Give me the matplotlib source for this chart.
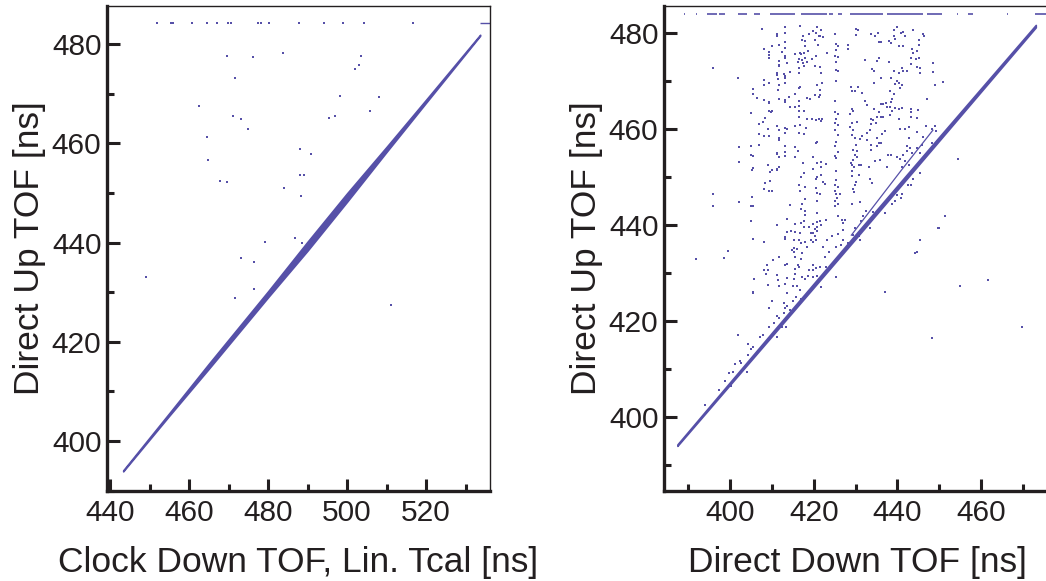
import numpy as np
import matplotlib.pyplot as plt
from matplotlib.ticker import MultipleLocator

plt.rcParams['font.family'] = ['Liberation Sans', 'DejaVu Sans']

INK = '#231f20'
DOT = '#5650a8'

# ---- left panel: Clock Down TOF (Lin. Tcal) vs Direct Up TOF ----
left_band_x = [443.3, 455.0, 465.0, 480.0, 490.0, 500.0, 510.0, 520.0, 533.7]
left_band_y = [394.0, 405.4, 415.1, 429.6, 439.3, 449.1, 458.8, 468.5, 481.8]
left_band_spread = [0.1, 0.25, 0.5, 0.6, 0.9, 0.85, 0.5, 0.3, 0.1]

left_top_level = 484.2
left_top_x = [451.9, 455.4, 455.9, 460.8, 464.6, 467.1, 469.9, 470.6, 477.5,
              478.2, 480.3, 487.8, 494.2, 499.0, 504.3, 516.7]
left_top_seg = [533.7, 536.2]

left_pts = np.array([
    (469.7, 477.6), (476.3, 477.4), (483.7, 478.2), (503.5, 477.6), (502.9, 475.9),
    (501.9, 475.0), (471.6, 473.1), (498.2, 469.5), (508.2, 469.3), (462.6, 467.5),
    (505.8, 466.5), (471.2, 465.6), (473.2, 465.0), (495.4, 465.2), (497.0, 465.5),
    (475.0, 462.9), (464.6, 461.3), (488.2, 458.8), (490.9, 457.8), (464.9, 456.6),
    (488.1, 453.6), (489.1, 453.6), (467.8, 452.5), (469.5, 452.3), (484.1, 451.1),
    (488.3, 449.4), (486.8, 440.9), (479.2, 440.1), (488.6, 440.0), (473.2, 436.9),
    (476.5, 436.0), (449.0, 433.1), (476.5, 430.6), (471.6, 428.8), (511.1, 427.4),
])

# ---- right panel: Direct Down TOF vs Direct Up TOF ----
right_band_x = [387.4, 410.0, 430.0, 450.0, 473.1]
right_band_y = [394.1, 417.2, 437.6, 458.0, 481.5]
right_band_spread = [0.15, 0.35, 0.45, 0.4, 0.25]

right_band2_x = [429.0, 441.0, 448.5]
right_band2_y = [437.9, 451.5, 459.8]

right_top_level = 484.0
right_top_start = [389.0, 391.9, 394.4, 397.4, 401.9, 405.7, 409.6, 416.9, 423.7,
                   425.8, 428.7, 437.5, 447.1, 454.2, 456.9, 466.1, 472.9]
right_top_end = [389.3, 392.2, 396.8, 398.8, 404.1, 407.2, 415.5, 423.1, 424.6,
                 426.8, 436.6, 446.1, 450.7, 454.5, 458.1, 466.4, 477.0]

right_pts = np.array([
    (407.7, 480.9), (413.2, 481.3), (416.8, 481.6), (411.3, 479.8), (411.3, 479.4),
    (413.2, 480.0), (418.8, 479.8), (419.8, 480.5), (420.6, 480.0), (421.2, 479.5),
    (420.9, 481.4), (417.5, 479.5), (417.1, 478.7), (417.8, 478.3), (418.0, 477.3),
    (418.6, 476.4), (417.7, 475.9), (420.4, 478.7), (421.0, 477.5), (410.1, 477.4),
    (411.6, 477.6), (413.2, 478.1), (408.2, 476.7), (409.2, 476.2), (409.2, 475.5),
    (409.2, 474.8), (413.2, 476.9), (412.4, 476.1), (413.2, 475.3), (413.2, 474.8),
    (415.5, 475.7), (416.7, 475.8), (416.9, 475.6), (416.5, 474.6), (416.3, 474.1),
    (417.1, 474.5), (418.0, 474.8), (418.5, 474.1), (417.5, 473.9), (417.7, 473.2),
    (419.6, 474.6), (420.6, 475.2), (420.4, 473.1), (413.5, 473.9), (411.6, 474.2),
    (411.6, 473.4), (411.6, 473.1), (416.6, 472.7), (414.3, 472.0), (416.6, 471.8),
    (411.3, 471.8), (411.3, 471.3), (412.9, 471.5), (413.2, 471.0), (413.1, 470.6),
    (413.2, 469.7), (411.5, 470.4), (411.6, 469.2), (411.5, 468.2), (408.0, 470.2),
    (409.2, 469.6), (408.1, 469.2), (405.6, 468.4), (405.6, 467.4), (406.5, 466.5),
    (408.0, 466.1), (409.4, 465.7), (409.2, 465.4), (411.6, 466.3), (413.1, 466.1),
    (413.2, 465.7), (414.2, 466.8), (415.5, 467.3), (416.7, 468.9), (416.5, 468.7),
    (418.3, 466.6), (419.1, 466.3), (420.4, 467.1), (420.9, 469.3), (421.2, 466.8),
    (414.3, 464.6), (415.5, 464.6), (416.6, 465.8), (416.6, 464.9), (416.6, 463.8),
    (416.6, 462.6), (417.7, 463.8), (418.3, 462.1), (419.6, 462.1), (420.6, 462.0),
    (421.2, 462.1), (409.4, 463.8), (409.7, 463.5), (410.0, 463.8), (408.3, 462.4),
    (407.8, 461.5), (407.0, 461.0), (405.1, 463.3), (409.1, 460.1), (411.3, 460.7),
    (411.6, 459.9), (413.1, 460.3), (413.7, 460.0), (413.2, 459.3), (415.5, 460.7),
    (416.7, 460.8), (418.2, 460.3), (416.4, 459.2), (417.7, 458.9), (407.0, 459.0),
    (408.0, 458.6), (409.2, 458.6), (411.6, 458.2), (411.6, 457.8), (420.9, 457.4),
    (420.6, 457.1), (407.0, 456.7), (405.1, 456.5), (402.2, 456.3), (413.2, 456.4),
    (415.5, 456.2), (416.3, 455.5), (411.3, 455.1), (411.2, 454.9), (411.6, 454.3),
    (413.2, 455.3), (413.2, 454.4), (415.5, 454.3), (404.9, 454.7), (405.6, 454.4),
    (402.2, 453.2), (409.1, 452.5), (411.6, 452.2), (411.3, 451.7), (417.4, 452.9),
    (419.9, 454.2), (420.9, 452.9), (419.9, 451.7), (405.4, 451.9), (395.8, 472.7),
    (402.0, 470.6),
    (421.8, 480.7), (421.5, 479.4), (422.3, 479.2), (425.2, 479.8), (430.0, 481.0),
    (430.6, 480.6), (430.0, 479.6), (433.6, 479.8), (435.4, 480.0), (434.7, 479.5),
    (440.0, 481.3), (439.2, 480.7), (440.8, 480.0), (441.4, 480.2), (441.9, 479.5),
    (443.8, 480.7), (446.1, 479.9), (446.4, 479.5), (425.3, 477.8), (425.7, 477.4),
    (425.3, 476.6), (425.2, 475.2), (425.8, 475.0), (428.2, 477.5), (428.2, 476.8),
    (423.1, 475.9), (435.7, 478.1), (436.2, 478.1), (437.9, 478.4), (438.4, 478.0),
    (441.3, 477.4), (440.5, 477.3), (439.2, 479.4), (439.4, 478.8), (445.1, 478.7),
    (445.1, 477.5), (443.5, 476.8), (443.7, 475.9), (444.6, 476.3), (443.2, 474.9),
    (444.5, 474.6), (445.1, 474.8), (432.3, 474.5), (435.5, 474.9), (435.2, 474.2),
    (437.9, 474.1), (425.3, 474.1), (425.3, 472.4), (425.7, 472.1), (421.5, 473.0),
    (421.8, 471.7), (443.2, 473.5), (444.6, 473.0), (445.3, 472.8), (445.4, 471.7),
    (448.6, 473.8), (448.6, 472.0), (433.9, 472.5), (434.4, 472.2), (436.2, 470.6),
    (439.2, 472.2), (440.3, 471.7), (441.3, 472.1), (442.4, 472.1), (441.1, 472.7),
    (440.3, 469.6), (439.5, 469.5), (440.6, 468.6), (441.1, 469.3), (440.0, 470.0),
    (438.4, 470.6), (434.3, 469.7), (425.3, 470.0), (422.1, 469.7), (421.5, 468.1),
    (421.5, 467.1), (429.0, 468.9), (430.6, 468.9), (429.2, 467.9), (429.8, 467.9),
    (431.6, 467.5), (438.2, 467.9), (439.2, 467.4), (448.9, 469.3), (451.0, 469.9),
    (425.2, 465.8), (432.3, 465.8), (432.8, 465.0), (436.0, 465.2), (436.6, 465.3),
    (437.3, 465.4), (438.4, 465.7), (438.6, 466.4), (439.5, 464.5), (438.2, 464.6),
    (437.5, 464.6), (438.7, 463.9), (440.5, 464.3), (441.1, 464.5), (443.3, 464.3),
    (443.3, 463.6), (444.9, 464.0), (447.2, 466.3), (434.4, 464.2), (435.5, 463.6),
    (429.2, 464.3), (429.5, 463.9), (428.7, 463.2), (425.2, 463.6), (425.7, 463.2),
    (425.3, 462.2), (422.1, 462.1), (421.8, 461.8), (435.2, 462.5), (436.0, 462.5),
    (433.6, 462.2), (434.9, 461.2), (434.1, 462.0), (433.8, 461.0), (436.6, 462.6),
    (438.2, 462.9), (440.3, 462.2), (443.3, 462.5), (444.6, 462.4), (425.2, 461.2),
    (425.7, 460.8), (425.2, 459.9), (429.2, 461.2), (430.4, 461.5), (428.7, 460.4),
    (429.3, 459.9), (429.2, 458.7), (429.8, 458.1), (425.7, 458.7), (425.3, 457.4),
    (433.5, 459.9), (432.7, 459.2), (437.0, 459.7), (436.3, 459.0), (440.6, 460.1),
    (441.9, 460.0), (442.9, 460.4), (446.9, 460.6), (448.3, 460.1), (449.1, 460.6),
    (449.2, 459.7), (444.8, 459.4), (442.7, 458.2), (446.2, 458.3), (431.6, 458.5),
    (431.1, 457.9), (432.8, 457.8), (435.1, 458.1), (435.5, 457.2), (436.2, 457.1),
    (433.6, 456.7), (435.1, 456.4), (433.8, 455.7), (430.0, 456.7), (429.5, 455.7),
    (430.3, 455.4), (429.8, 454.6), (430.4, 454.3), (429.3, 453.6), (429.2, 452.6),
    (429.6, 452.2), (430.8, 452.5), (429.0, 452.9), (425.2, 456.4), (425.7, 455.3),
    (425.0, 454.4), (425.3, 454.0), (421.8, 453.2), (421.8, 452.2), (422.9, 452.8),
    (431.2, 452.5), (433.1, 452.2), (434.7, 453.3), (435.9, 453.6), (437.5, 452.2),
    (437.8, 454.7), (438.4, 454.7), (439.8, 454.3), (441.4, 454.7), (442.4, 456.4),
    (443.0, 456.0), (442.4, 455.5), (444.8, 456.1), (445.9, 456.7), (445.4, 455.1),
    (443.5, 455.0), (441.9, 453.3), (441.1, 452.2), (442.9, 452.5), (440.6, 453.7),
    (405.3, 451.4), (409.6, 451.1), (410.0, 451.5), (411.3, 451.4), (417.7, 450.8),
    (417.0, 450.0), (420.6, 449.6), (420.7, 450.0), (408.3, 448.7), (409.6, 449.1),
    (416.6, 448.3), (418.0, 448.0), (408.0, 447.5), (409.2, 447.2), (410.1, 447.2),
    (416.8, 447.2), (420.6, 447.7), (420.7, 446.6), (395.8, 446.4), (405.3, 445.9),
    (420.7, 445.1), (417.8, 445.5), (402.2, 444.8), (395.8, 444.0), (405.0, 443.9),
    (405.4, 443.9), (414.4, 444.1), (417.3, 444.4), (417.9, 443.0), (418.0, 442.2),
    (420.7, 442.5), (416.9, 443.3), (405.1, 440.8), (411.3, 440.0), (413.7, 441.2),
    (415.6, 440.2), (416.9, 440.5), (417.7, 440.9), (420.9, 440.7), (419.9, 440.2),
    (420.9, 439.7), (417.7, 439.7), (418.8, 439.5), (420.2, 439.1), (419.9, 438.3),
    (420.4, 437.7), (420.9, 438.8), (413.5, 438.6), (414.5, 438.7), (415.6, 438.6),
    (416.7, 438.3), (419.3, 438.4), (405.6, 437.0), (408.0, 436.5), (413.2, 437.6),
    (413.1, 437.0), (415.3, 436.8), (416.4, 436.9), (416.9, 436.2), (417.9, 436.5),
    (418.3, 435.5), (419.3, 436.8), (419.8, 436.5), (420.6, 436.9), (415.3, 435.2),
    (415.3, 434.3), (415.5, 433.3), (416.1, 435.1), (417.1, 434.1), (416.9, 432.9),
    (414.7, 434.9), (399.4, 434.5), (391.9, 432.9), (398.6, 433.1), (410.2, 432.7),
    (411.6, 433.4), (413.1, 431.7), (413.5, 431.9), (416.3, 431.7), (416.4, 431.2),
    (415.6, 430.9), (415.5, 429.9), (418.8, 430.6), (419.8, 430.6), (419.9, 431.7),
    (420.6, 431.0), (420.9, 429.4), (418.6, 429.4), (417.9, 428.8), (419.8, 429.1),
    (408.9, 431.7), (408.1, 430.6), (408.5, 429.9), (409.1, 430.6), (405.7, 428.7),
    (411.3, 429.5), (411.5, 428.5), (413.7, 429.0), (415.3, 428.8), (417.1, 429.2),
    (409.1, 427.6), (411.6, 427.4), (413.1, 427.7), (415.0, 427.3), (416.1, 427.4),
    (416.7, 426.4), (405.6, 425.9), (413.5, 425.8), (415.8, 425.1), (415.1, 424.2),
    (416.9, 424.5), (410.0, 424.1), (412.8, 423.8), (413.5, 423.1), (409.4, 422.8),
    (413.2, 422.7), (414.4, 422.3), (412.9, 421.6), (411.3, 421.0), (411.6, 420.6),
    (421.8, 450.5), (422.3, 449.0), (422.6, 448.6), (421.5, 446.5), (425.3, 451.2),
    (425.3, 449.4), (425.0, 448.3), (425.8, 448.0), (425.2, 447.1), (425.3, 446.4),
    (425.5, 445.7), (425.0, 445.0), (425.7, 444.5), (425.2, 443.9), (426.3, 446.5),
    (429.2, 451.2), (429.2, 450.3), (430.0, 449.0), (429.8, 448.4), (429.3, 447.6),
    (429.6, 446.9), (430.9, 450.4), (433.5, 449.6), (433.9, 448.7), (431.1, 444.8),
    (429.2, 444.3), (425.7, 441.9), (426.8, 441.1), (427.6, 441.1), (427.1, 440.4),
    (426.9, 439.0), (421.5, 440.9), (421.8, 440.1), (422.9, 441.1), (425.8, 438.2),
    (423.1, 436.9), (424.4, 437.7), (427.1, 436.9), (428.2, 436.3), (426.6, 435.8),
    (422.3, 435.4), (425.3, 435.5), (423.7, 434.4), (422.6, 433.3), (421.5, 431.2),
    (422.9, 431.3), (421.8, 427.1), (425.3, 429.1), (437.1, 426.0), (445.4, 436.9),
    (449.6, 439.4), (450.0, 439.4), (451.5, 442.0), (444.1, 434.1), (444.8, 434.3),
    (443.0, 450.5), (443.8, 449.6), (445.3, 450.9), (441.1, 446.5), (440.8, 445.7),
    (440.0, 446.2), (442.6, 448.4), (443.2, 448.3), (432.5, 442.9), (431.7, 442.0),
    (434.1, 442.7), (437.0, 442.6), (439.5, 445.1), (438.6, 444.5), (431.2, 440.9),
    (433.5, 439.3), (429.8, 439.3), (430.8, 437.7), (431.1, 436.8), (429.5, 437.9),
    (402.0, 417.0), (404.4, 415.2), (405.1, 414.1), (405.6, 414.5), (404.3, 412.9),
    (402.4, 411.7), (402.6, 411.3), (401.1, 411.1), (400.8, 409.3), (399.8, 409.1),
    (404.1, 409.3), (398.7, 407.5), (400.3, 406.5), (397.3, 405.6), (394.1, 402.5),
    (409.4, 418.8), (410.4, 419.5), (407.2, 416.6), (407.8, 417.0), (412.4, 418.8),
    (411.3, 416.6), (413.4, 418.7), (448.2, 416.4), (469.7, 418.7), (455.0, 427.4),
    (405.6, 426.0), (454.6, 453.7), (461.7, 428.5), (448.4, 457.1),
])

fig = plt.figure(figsize=(10.46, 5.81), dpi=100)
ax1 = fig.add_axes([107 / 1046, 90.3 / 581, 383 / 1046, 484.7 / 581])
ax2 = fig.add_axes([664 / 1046, 90.3 / 581, 386 / 1046, 484.7 / 581])


def band(ax, x, y, spread):
    y = np.asarray(y)
    s = np.asarray(spread)
    ax.fill_between(x, y - s, y + s, color=DOT, lw=1.2, edgecolor=DOT)


# left panel
band(ax1, left_band_x, left_band_y, left_band_spread)
ax1.scatter(left_pts[:, 0], left_pts[:, 1], s=1.8, marker='s', color=DOT, linewidths=0)
ax1.scatter(left_top_x, [left_top_level] * len(left_top_x), s=1.8, marker='s',
            color=DOT, linewidths=0)
ax1.hlines(left_top_level, left_top_seg[0], left_top_seg[1], color=DOT, lw=1)
ax1.set_xlim(439.2, 536.2)
ax1.set_ylim(390.0, 487.7)
ax1.set_xlabel('Clock Down TOF, Lin. Tcal [ns]', fontsize=25.5, color=INK, labelpad=14)
ax1.set_ylabel('Direct Up TOF [ns]', fontsize=25.5, color=INK, labelpad=4)
ax1.xaxis.set_major_locator(MultipleLocator(20))
ax1.xaxis.set_minor_locator(MultipleLocator(10))

# right panel
band(ax2, right_band_x, right_band_y, right_band_spread)
ax2.plot(right_band2_x, right_band2_y, color=DOT, lw=0.9)
ax2.scatter(right_pts[:, 0], right_pts[:, 1], s=1.8, marker='s', color=DOT, linewidths=0)
ax2.hlines([right_top_level] * len(right_top_start), right_top_start, right_top_end,
           color=DOT, lw=1.2)
ax2.set_xlim(384.2, 476.5)
ax2.set_ylim(384.6, 485.7)
ax2.set_xlabel('Direct Down TOF [ns]', fontsize=25.5, color=INK, labelpad=14)
ax2.set_ylabel('Direct Up TOF [ns]', fontsize=25.5, color=INK, labelpad=4)
ax2.xaxis.set_major_locator(MultipleLocator(20))
ax2.xaxis.set_minor_locator(MultipleLocator(10))

for ax in (ax1, ax2):
    ax.yaxis.set_major_locator(MultipleLocator(20))
    ax.yaxis.set_minor_locator(MultipleLocator(10))
    ax.spines['left'].set_linewidth(2.4)
    ax.spines['bottom'].set_linewidth(2.4)
    ax.spines['top'].set_linewidth(1.0)
    ax.spines['right'].set_linewidth(1.0)
    for sp in ax.spines.values():
        sp.set_color(INK)
    ax.tick_params(which='both', direction='in', top=False, right=False,
                   colors=INK, labelsize=21.5)
    ax.tick_params(which='major', length=9, width=2.2, pad=6)
    ax.tick_params(which='minor', length=5, width=2.2)
    ax.tick_params(axis='y', which='major', pad=4)

fig.savefig('out.png', dpi=100, facecolor='white')
